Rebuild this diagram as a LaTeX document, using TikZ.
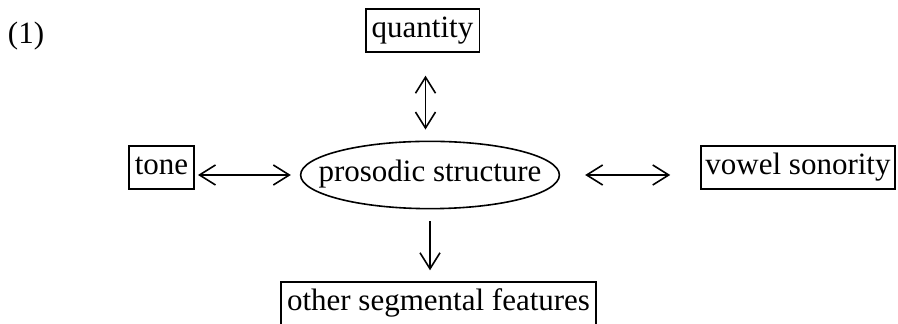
\documentclass[tikz,border=0pt]{standalone}
\usepackage{fontspec}
\setmainfont{Liberation Serif}
\usetikzlibrary{arrows.meta,shapes.geometric}

\begin{document}
\begin{tikzpicture}[x=0.5pt,y=-0.5pt]
\tikzset{box/.style={draw,line width=0.8pt,font=\fontsize{15.5}{18}\selectfont,inner xsep=3pt,inner ysep=3.2pt,text height=11pt,text depth=4pt},
  arr/.style={line width=0.8pt,{Straight Barb[length=8pt,width=10pt]}-{Straight Barb[length=8pt,width=10pt]}},
  dnarr/.style={line width=0.8pt,-{Straight Barb[length=8pt,width=10pt]}}}
\useasboundingbox (0,0) rectangle (898,324);
\node[font=\fontsize{15.5}{18}\selectfont] (num) at (26,36) {(1)};
\node[box] (quantity) at (422.5,30.5) {quantity};
\node[box] (tone) at (161.5,167.5) {tone};
\node[box,inner xsep=2.2pt] (vowel) at (798,167.5) {vowel sonority};
\node[box,minimum width=157.5pt] (other) at (438.5,303.5) {other segmental features};
\node[draw,ellipse,line width=0.8pt,inner xsep=-10pt,inner ysep=4.4pt,text height=11pt,text depth=4pt,font=\fontsize{15.5}{18}\selectfont] (ell) at (430,175) {prosodic structure};
% connectors
\draw[arr,shorten <=1.5pt,shorten >=4.5pt] (tone.east |- ell.west) -- (ell.west);
\draw[arr,shorten <=12.5pt,shorten >=15pt] (ell.east) -- (vowel.west |- ell.east);
\draw[arr,shorten <=11.5pt,shorten >=5.5pt] ([xshift=1.5pt]quantity.south) -- ([xshift=1.5pt]quantity.south |- ell.north);
\draw[dnarr,shorten <=6pt,shorten >=5.5pt] (ell.south) -- (ell.south |- other.north);
\end{tikzpicture}
\end{document}
